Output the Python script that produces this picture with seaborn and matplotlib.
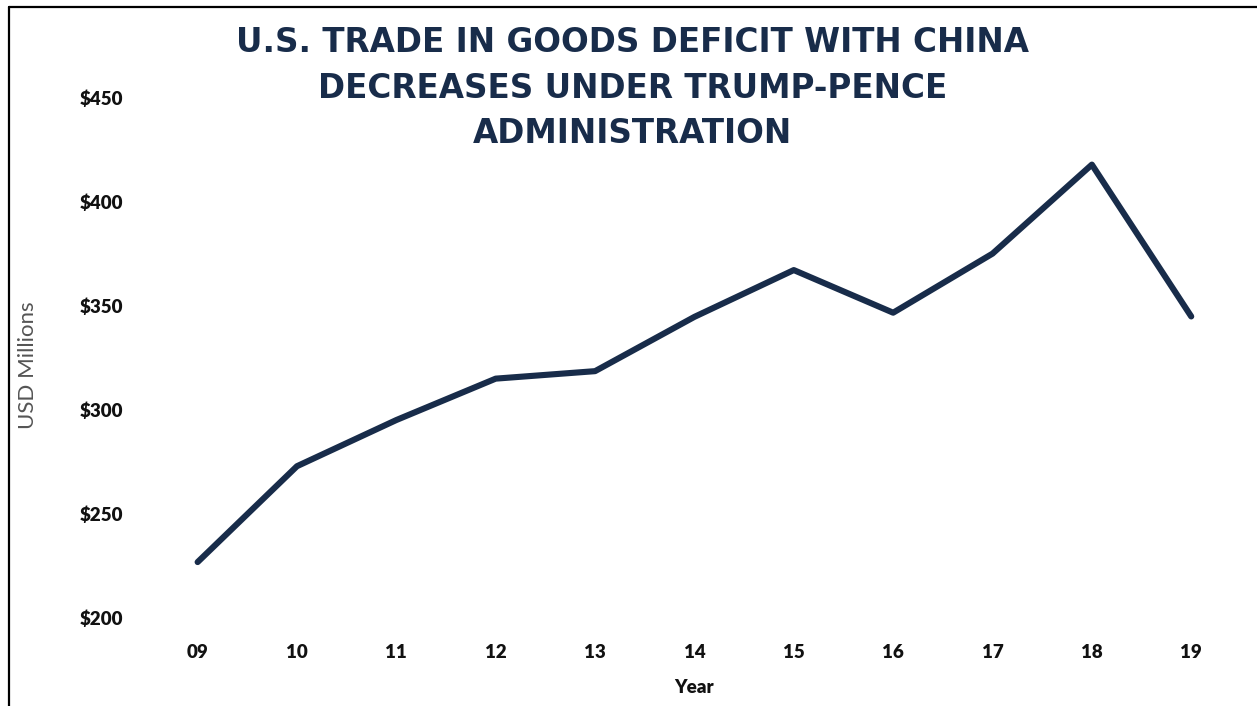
#!/usr/bin/env python3

import pandas as pd
import seaborn as sns
import matplotlib.pyplot as plt
from matplotlib.lines import Line2D

sns.set_theme(style="white")
plt.rcParams['font.family'] = ['Lato', 'DejaVu Sans']

years = ["09", "10", "11", "12", "13", "14", "15", "16", "17", "18", "19"]
deficit = [226.9, 273.0, 295.2, 315.1, 318.7, 344.8, 367.3, 346.8, 375.2, 418.0, 345.0]
y_ticks = [200, 250, 300, 350, 400, 450]
y_labels = ["$200", "$250", "$300", "$350", "$400", "$450"]

navy = "#182c4a"

df = pd.DataFrame({"Year": years, "USD Millions": deficit})

fig = plt.figure(figsize=(12.57, 7.06), dpi=100)
ax = fig.add_axes([0.1177, 0.1246, 0.8695, 0.7365])

sns.lineplot(data=df, x="Year", y="USD Millions", ax=ax, color=navy,
             linewidth=4.4, solid_capstyle="round", sort=False)

ax.set_xlim(-0.5, len(years) - 0.5)
ax.set_ylim(200, 450)
ax.set_yticks(y_ticks)
ax.set_yticklabels(y_labels)
ax.tick_params(axis="both", length=0, labelsize=13.5, labelcolor="#111111")
ax.tick_params(axis="y", pad=18)
ax.tick_params(axis="x", pad=19)
for lbl in ax.get_xticklabels() + ax.get_yticklabels():
    lbl.set_fontweight("heavy")
sns.despine(ax=ax, left=True, bottom=True)
ax.grid(False)

ax.set_xlabel("Year", fontsize=13.5, fontweight="heavy", color="#111111")
ax.set_ylabel("USD Millions", fontsize=16, color="#555555")
ax.xaxis.set_label_coords(0.5, -0.118)
ax.yaxis.set_label_coords(-0.1006, 0.487)

fig.text(0.503, 0.875,
         "U.S. TRADE IN GOODS DEFICIT WITH CHINA\nDECREASES UNDER TRUMP-PENCE\nADMINISTRATION",
         ha="center", va="center", fontsize=23.5, fontweight="bold", color=navy,
         linespacing=1.48, family="DejaVu Sans")

# frame lines on the left and top of the picture
fig.add_artist(Line2D([0.0072, 0.0072], [0, 0.99], transform=fig.transFigure, color="black", lw=1.6))
fig.add_artist(Line2D([0.0072, 1], [0.99, 0.99], transform=fig.transFigure, color="black", lw=1.6))

plt.savefig("out.png", dpi=100)
